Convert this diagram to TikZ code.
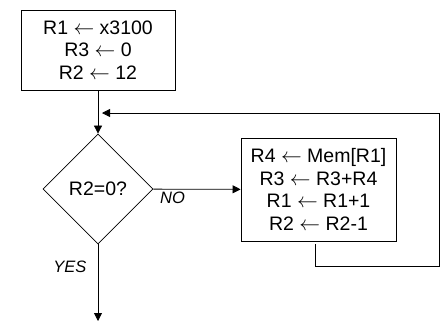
\documentclass[tikz,border=0pt]{standalone}
\usepackage{fontspec}
\setmainfont{Liberation Sans}
\usetikzlibrary{arrows.meta,shapes.geometric}

\begin{document}
\begin{tikzpicture}[x=1pt, y=-1pt, line width=0.8pt,
	every node/.style={font=\fontsize{19.5}{22.5}\selectfont},
	>={Triangle[length=8pt,width=8pt]},
	block/.style={draw, rectangle, align=center, inner sep=0pt},
	decision/.style={draw, diamond, aspect=1, inner sep=0pt, minimum width=110pt, minimum height=110pt},
	answer/.style={font=\fontsize{16.5}{18}\selectfont\itshape}]
	\useasboundingbox (0,0) rectangle (442,322);
	\node[block, minimum width=154pt, minimum height=80pt] (init) at (98,50) {R1 $\leftarrow$ x3100\\R3 $\leftarrow$ 0\\R2 $\leftarrow$ 12};
	\node[decision] (test) at (98,189) {R2=0?};
	\node[block, minimum width=155pt, minimum height=103pt] (body) at (318.5,189.5) {R4 $\leftarrow$ Mem[R1]\\R3 $\leftarrow$ R3+R4\\R1 $\leftarrow$ R1+1\\R2 $\leftarrow$ R2-1};
	\coordinate (merge) at (98,113);
	\coordinate (loopstart) at (315,244);
	\coordinate (done) at (98,321);
	\draw[->] (init) -- (test);
	\draw[->] (test) -- (body) node[answer, pos=0.22, below=-1pt] {NO};
	\draw[->] (test) -- (done) node[answer, pos=0.29, left=8pt] {YES};
	\draw[->] (loopstart) |- (439,266) |- ([xshift=4pt]merge);
\end{tikzpicture}
\end{document}
